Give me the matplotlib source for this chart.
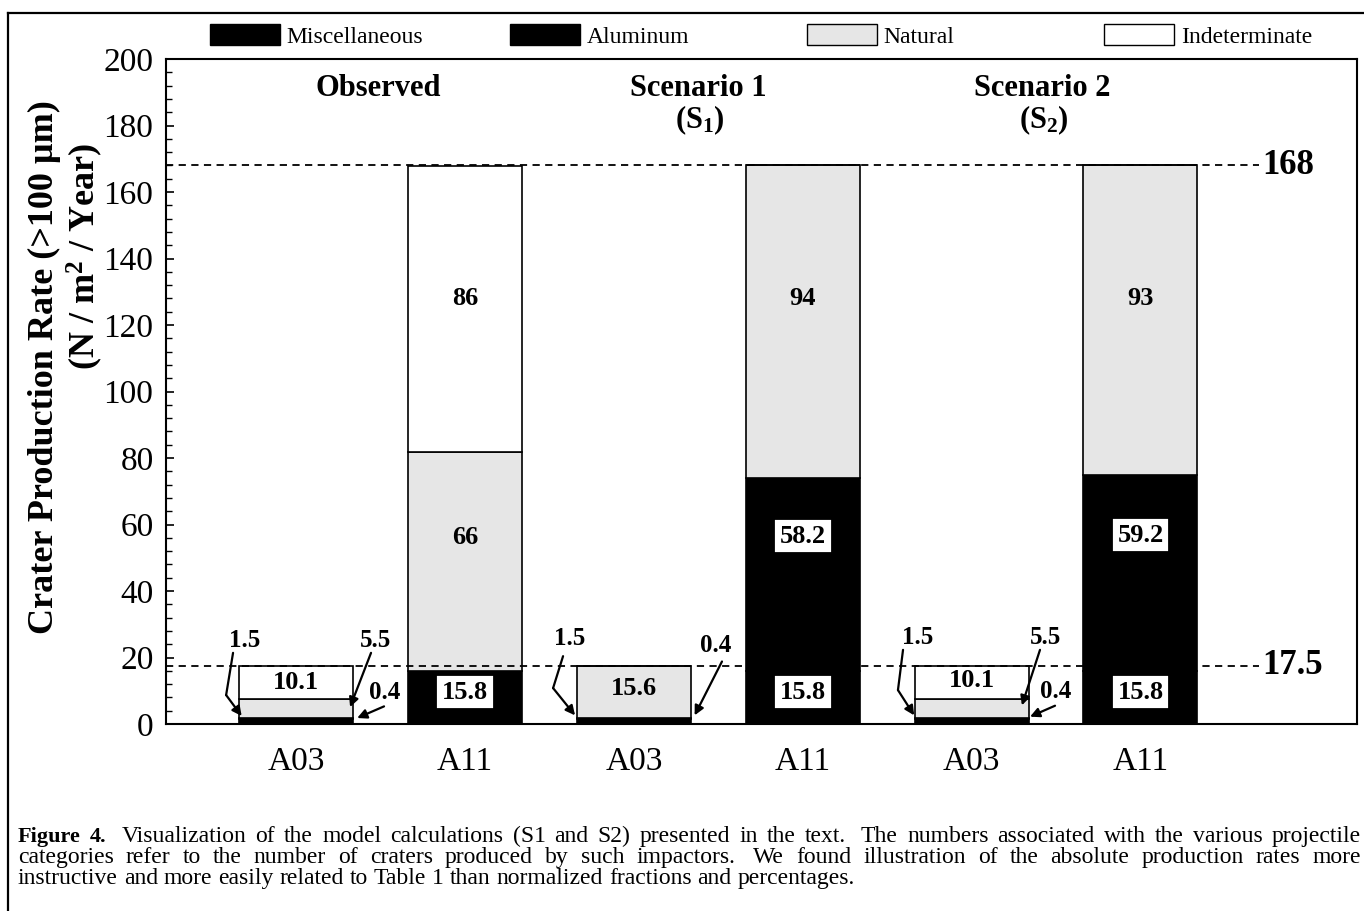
import matplotlib
matplotlib.use("Agg")
import matplotlib.pyplot as plt
from matplotlib.lines import Line2D
from matplotlib.patches import Patch
from matplotlib.ticker import MultipleLocator
import numpy as np

plt.rcParams['font.family'] = ['Liberation Serif', 'DejaVu Serif']
plt.rcParams['mathtext.fontset'] = 'custom'
plt.rcParams['mathtext.rm'] = 'Liberation Serif'
plt.rcParams['mathtext.it'] = 'Liberation Serif:italic'
plt.rcParams['mathtext.bf'] = 'Liberation Serif:bold'

# ---------------- data ----------------
bar_labels = ["A03", "A11", "A03", "A11", "A03", "A11"]
misc = [1.5, 15.8, 1.5, 15.8, 1.5, 15.8]
aluminum = [0.4, 0.0, 0.4, 58.2, 0.4, 59.2]
natural = [5.5, 66.0, 15.6, 94.0, 5.5, 93.0]
indeterminate = [10.1, 86.0, 0.0, 0.0, 10.1, 0.0]
series_names = ["Miscellaneous", "Aluminum", "Natural", "Indeterminate"]
group_titles = ["Observed", "Scenario 1", "Scenario 2"]
group_subtitles = ["", r"$\mathbf{(S_1)}$", r"$\mathbf{(S_2)}$"]
ref_levels = [168, 17.5]
ytick_values = list(range(0, 201, 20))

caption_lines = [
    "Figure 4.  Visualization of the model calculations (S1 and S2) presented in the text.  "
    "The numbers associated with the various projectile",
    "categories refer to the number of craters produced by such impactors.  "
    "We found illustration of the absolute production rates more",
    "instructive and more easily related to Table 1 than normalized fractions and percentages.",
]

NAT = '#e6e6e6'
colors = ['black', 'black', NAT, 'white']

W, H = 1364, 911
fig = plt.figure(figsize=(W / 100, H / 100), dpi=100)
ax = fig.add_axes([166 / W, 1 - 724 / H, (1357 - 166) / W, (724 - 59) / H])

x = np.arange(len(bar_labels))
width = 0.675
series = [misc, aluminum, natural, indeterminate]
bottom = np.zeros(len(x))
for vals, col in zip(series, colors):
    vals = np.array(vals)
    ax.bar(x, vals, width, bottom=bottom, color=col, edgecolor='black',
           linewidth=1.2, zorder=2)
    bottom += vals

XL = (-0.770, 6.282)
ax.set_xlim(*XL)
ax.set_ylim(0, 200)
ax.set_yticks(ytick_values)
ax.yaxis.set_minor_locator(MultipleLocator(4))
ax.tick_params(axis='y', which='major', direction='in', length=6, width=1.2,
               labelsize=24, pad=9, right=False)
ax.tick_params(axis='y', which='minor', direction='in', length=4.5, width=1.0,
               right=False)
ax.set_xticks(x, bar_labels)
ax.tick_params(axis='x', length=0, labelsize=24, pad=16)
for s in ax.spines.values():
    s.set_linewidth(1.5)

# reference dashed lines and labels
ax.hlines(ref_levels, XL[0], 5.70, colors='black', linestyles=(0, (4, 3)),
          lw=1.3, zorder=3)
for lv in ref_levels:
    ax.text(5.72, lv, f"{lv:g}", ha='left', va='center', fontsize=25,
            fontweight='bold')

# group titles
title_x = [0.486, 2.38, 4.42]
for tx, t, st in zip(title_x, group_titles, group_subtitles):
    ax.text(tx, 191.0, t, ha='center', va='center', fontsize=22, fontweight='bold')
    if st:
        ax.text(tx + 0.01, 181.5, st, ha='center', va='center', fontsize=22,
                fontweight='bold')

# in-bar value labels: (bar index, series index, y position, boxed)
inbar = [
    (1, 3, 128, False), (1, 2, 56.2, False), (1, 0, 9.6, True),
    (3, 2, 128, False), (3, 1, 56.5, True), (3, 0, 9.6, True),
    (5, 2, 128, False), (5, 1, 56.8, True), (5, 0, 9.6, True),
    (0, 3, 12.6, False), (2, 2, 10.8, False), (4, 3, 13.2, False),
]
for bi, si, yy, boxed in inbar:
    kw = {}
    if boxed:
        kw['bbox'] = dict(boxstyle='square,pad=0.22', fc='white', ec='black', lw=1.3)
    ax.text(x[bi], yy, f"{series[si][bi]:g}", ha='center', va='center',
            fontsize=19, fontweight='bold', zorder=5, **kw)

# leader-line labels: (bar index, series index, text position, path)
leaders = [
    (0, 0, (-0.302, 25.0), [(-0.373, 21.4), (-0.414, 8.7), (-0.322, 2.4)]),
    (0, 2, (0.468, 25.0), [(0.444, 21.4), (0.320, 5.1)]),
    (0, 1, (0.527, 9.6), [(0.521, 5.3), (0.362, 1.8)]),
    (2, 0, (1.622, 25.6), [(1.581, 20.4), (1.522, 10.8), (1.652, 2.6)]),
    (2, 1, (2.487, 23.5), [(2.522, 18.8), (2.360, 2.6)]),
    (4, 0, (3.683, 25.9), [(3.594, 22.3), (3.564, 10.2), (3.660, 2.6)]),
    (4, 2, (4.440, 25.9), [(4.405, 22.3), (4.298, 5.6)]),
    (4, 1, (4.500, 9.9), [(4.494, 5.5), (4.346, 2.2)]),
]
for bi, si, tpos, path in leaders:
    ax.text(tpos[0], tpos[1], f"{series[si][bi]:g}", ha='center', va='center',
            fontsize=18, fontweight='bold', zorder=5)
    if len(path) > 2:
        px, py = zip(*path[:-1])
        ax.plot(px, py, color='black', lw=1.6, zorder=5, solid_capstyle='round')
    ax.annotate('', xy=path[-1], xytext=path[-2],
                arrowprops=dict(arrowstyle='-|>', color='black', lw=1.6,
                                mutation_scale=14, shrinkA=0, shrinkB=0),
                zorder=5)

# y label (two lines)
ax.text((44 - 166) / 1191, 0.537, "Crater Production Rate (>100 µm)",
        transform=ax.transAxes, rotation=90, ha='center', va='center',
        fontsize=26, fontweight='bold')
ax.text((85 - 166) / 1191, 0.703, r"(N / m$^{\mathbf{2}}$ / Year)",
        transform=ax.transAxes, rotation=90, ha='center', va='center',
        fontsize=26, fontweight='bold')

# legend along the top
handles = [Patch(facecolor=c, edgecolor='black', linewidth=1.0) for c in colors]
leg_x = [210, 510, 807, 1104]
for h, name, lx in zip(handles, series_names, leg_x):
    fig.legend(handles=[h], labels=[name], loc='center left',
               bbox_to_anchor=(lx / W, 1 - 36 / H), frameon=False, fontsize=17,
               handlelength=2.95, handleheight=0.95, handletextpad=0.3,
               borderpad=0, borderaxespad=0)

# outer frame (top and left edges visible)
fig.add_artist(Line2D([8 / W, 1.0], [1 - 13 / H, 1 - 13 / H], color='black', lw=1.6))
fig.add_artist(Line2D([8 / W, 8 / W], [1 - 13 / H, 0.0], color='black', lw=1.6))

# caption (first two lines justified, last line left aligned)
renderer = fig.canvas.get_renderer()
cap_fs = 17
bold_fs = 16
cap_baseline = [842, 863, 884]
X0, X1 = 18, 1361
for li, (line, yy) in enumerate(zip(caption_lines, cap_baseline)):
    words = line.split()
    objs = []
    for wi, wd in enumerate(words):
        bold = (li == 0 and wi < 2)
        objs.append(fig.text(X0 / W, 1 - yy / H, wd,
                             fontsize=bold_fs if bold else cap_fs,
                             fontweight='bold' if bold else 'normal',
                             ha='left', va='baseline'))
    widths = [o.get_window_extent(renderer).width for o in objs]
    spw = 0.25 * cap_fs * 100 / 72
    weights = [2 if words[i].endswith('.') else 1 for i in range(len(words) - 1)]
    natural_w = sum(widths) + sum(weights) * spw
    if li < len(caption_lines) - 1:
        extra = (X1 - X0 - natural_w) / (len(words) - 1)
    else:
        extra = 0.0
    pos = X0
    for i, o in enumerate(objs):
        o.set_x(pos / W)
        if i < len(objs) - 1:
            pos += widths[i] + weights[i] * spw + extra

fig.savefig("out.png", dpi=100)
